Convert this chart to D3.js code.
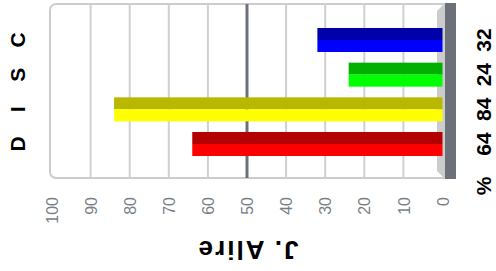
<!DOCTYPE html>
<html>
<head>
<meta charset="utf-8">
<script src="https://cdn.jsdelivr.net/npm/d3@7"></script>
<style>
  body { margin: 0; background: #fff; }
  svg { display: block; font-family: "Liberation Sans", Arial, sans-serif; }
</style>
</head>
<body>
<script>
"use strict";

// ----------------------------------------
//  Data
// ----------------------------------------
const categories = ["D", "I", "S", "C"];
const values = [64, 84, 24, 32];
const darkColors = ["#b30000", "#b8b800", "#00b000", "#0000aa"];
const lightColors = ["#ff0000", "#ffff00", "#00ff00", "#0000ff"];
const tickValues = [0, 10, 20, 30, 40, 50, 60, 70, 80, 90, 100];
const title = "J. Alire";
const unitLabel = "%";

const width = 496, height = 271;
const plotTop = 4, plotBottom = 178;

const svg = d3.select("body").append("svg")
    .attr("width", width)
    .attr("height", height);

// ----------------------------------------
//  Scales (chart is drawn turned on its side)
// ----------------------------------------
const x_scale = d3.scaleLinear()
    .domain([0, 100])
    .range([442.5, 51.5]);

const y_scale = d3.scaleBand()
    .domain(categories.slice().reverse())
    .range([5.1, 178.9])
    .paddingInner(0.308)
    .paddingOuter(0.66);

// frame
svg.append("rect")
    .attr("x", 50).attr("y", plotTop)
    .attr("width", 400).attr("height", plotBottom - plotTop)
    .attr("rx", 6)
    .attr("fill", "#fff")
    .attr("stroke", "#cccccc")
    .attr("stroke-width", 2);

// grid lines
svg.selectAll(".grid")
    .data(tickValues.filter(d => d > 0 && d < 100))
    .enter().append("line")
    .attr("x1", d => x_scale(d)).attr("x2", d => x_scale(d))
    .attr("y1", plotTop).attr("y2", plotBottom)
    .attr("stroke", d => d === 50 ? "#6b7079" : "#d0d0d0")
    .attr("stroke-width", d => d === 50 ? 3 : 2);

// side wall
svg.append("polygon")
    .attr("points", [[437, 11], [445, 3], [445, 179], [437, 171]].join(" "))
    .attr("fill", "#cccccc");

// floor
svg.append("rect")
    .attr("x", 445).attr("y", 3)
    .attr("width", 11).attr("height", 176)
    .attr("fill", "#6b7079");

// ----------------------------------------
//  Bars
// ----------------------------------------
const bars = svg.selectAll(".bar")
    .data(categories.map((c, i) => ({ cat: c, val: values[i], dark: darkColors[i], light: lightColors[i] })))
    .enter().append("g")
    .attr("class", "bar");

bars.append("rect")
    .attr("x", d => x_scale(d.val))
    .attr("y", d => y_scale(d.cat))
    .attr("width", d => x_scale(0) - x_scale(d.val))
    .attr("height", y_scale.bandwidth() / 2)
    .attr("fill", d => d.dark);

bars.append("rect")
    .attr("x", d => x_scale(d.val))
    .attr("y", d => y_scale(d.cat) + y_scale.bandwidth() / 2)
    .attr("width", d => x_scale(0) - x_scale(d.val))
    .attr("height", y_scale.bandwidth() / 2)
    .attr("fill", d => d.light);

// ----------------------------------------
//  Axis
// ----------------------------------------
const axis = svg.append("g")
    .attr("transform", "translate(0,197)")
    .call(d3.axisBottom(x_scale).tickValues(tickValues).tickSize(0).tickPadding(0));

axis.select(".domain").remove();
axis.selectAll("text")
    .attr("x", 0).attr("y", 0).attr("dy", "0.35em")
    .attr("transform", "rotate(-90)")
    .attr("text-anchor", "end")
    .attr("fill", "#7a7f87")
    .style("font-size", "16px")
    .style("font-family", "'Liberation Sans', Arial, sans-serif");

// category labels
svg.selectAll(".cat")
    .data(categories)
    .enter().append("text")
    .attr("transform", d => "translate(18," + (y_scale(d) + y_scale.bandwidth() / 2) + ") rotate(-90)")
    .attr("text-anchor", "middle")
    .attr("dy", "0.35em")
    .attr("font-weight", "bold")
    .attr("font-size", 21)
    .text(d => d);

// value labels
svg.selectAll(".val")
    .data(categories.map((c, i) => ({ cat: c, val: values[i] })))
    .enter().append("text")
    .attr("transform", d => "translate(484," + (y_scale(d.cat) + y_scale.bandwidth() / 2) + ") rotate(-90)")
    .attr("text-anchor", "middle")
    .attr("dy", "0.35em")
    .attr("font-weight", "bold")
    .attr("font-size", 21)
    .text(d => d.val);

svg.append("text")
    .attr("transform", "translate(484,186) rotate(-90)")
    .attr("text-anchor", "middle")
    .attr("dy", "0.35em")
    .attr("font-weight", "bold")
    .attr("font-size", 21)
    .text(unitLabel);

// title (upside down)
svg.append("text")
    .attr("transform", "translate(247.5,250) rotate(180)")
    .attr("text-anchor", "middle")
    .attr("dy", "0.35em")
    .attr("font-weight", "bold")
    .attr("font-size", 26)
    .attr("letter-spacing", 2)
    .text(title);
</script>
</body>
</html>
